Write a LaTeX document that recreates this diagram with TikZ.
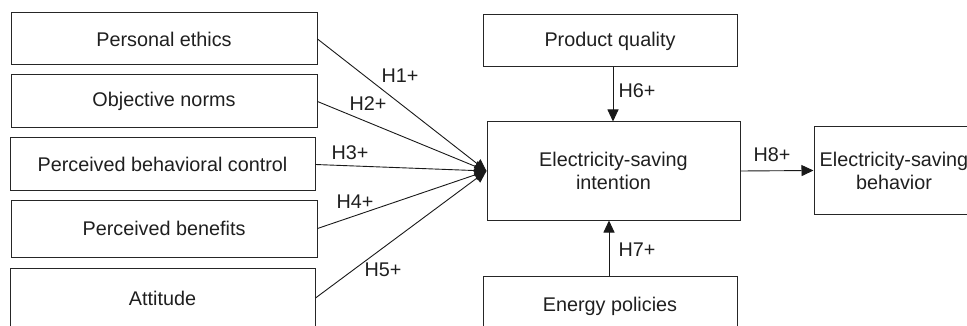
\documentclass[tikz,border=0pt]{standalone}
\usepackage{fontspec}
\setmainfont{Liberation Sans}
\usetikzlibrary{arrows.meta}

\begin{document}
\begin{tikzpicture}[x=1pt,y=-1pt,
  factor/.style={draw=black!85,line width=1pt,inner sep=0pt,align=center,
    font=\fontsize{19.8}{23}\selectfont,text=black!88},
  hyp/.style={font=\fontsize{19.8}{23}\selectfont,text=black!88,inner sep=0pt},
  link/.style={draw=black!90,line width=0.9pt,-{Triangle[length=12pt,width=11pt]}}]

\useasboundingbox (0,0) rectangle (967,326);
\clip (0,0) rectangle (967,326);

% antecedents
\node [factor,minimum width=306pt,minimum height=52pt] (PE) at (164,39) {Personal ethics};
\node [factor,minimum width=306pt,minimum height=53pt] (ON) at (164,101.5) {Objective norms};
\node [factor,minimum width=305pt,minimum height=53pt] (PBC) at (162.5,164.5) {Perceived behavioral control};
\node [factor,minimum width=306pt,minimum height=57pt] (PB) at (164,228.5) {Perceived benefits};
\node [factor,minimum width=305pt,minimum height=60pt] (ATT) at (162.5,298) {Attitude};

\node [factor,minimum width=254pt,minimum height=52pt] (PQ) at (610,41) {Product quality};
\node [factor,minimum width=253pt,minimum height=98pt] (ESI) at (613.5,171) {Electricity-saving\\intention};
\node [factor,minimum width=254pt,minimum height=60pt] (EP) at (610,306) {Energy policies};
\node [factor,minimum width=160pt,minimum height=87pt] (ESB) at (894,170.5) {Electricity-saving\\behavior};

\draw [link] (PE.east) -- (ESI.west);
\draw [link] (ON.east) -- (ESI.west);
\draw [link] (PBC.east) -- (ESI.west);
\draw [link] (PB.east) -- (ESI.west);
\draw [link] (ATT.east) -- (ESI.west);

\draw [link] (PQ.south -| 613,0) -- (ESI.north -| 613,0);
\draw [link] (EP.north -| 609,0) -- (ESI.south -| 609,0);
\draw [link] (ESI.east) -- (ESB.west);

\node [hyp] (H1) at (400,76) {H1+};
\node [hyp] (H2) at (368,104) {H2+};
\node [hyp] (H3) at (350,153) {H3+};
\node [hyp] (H4) at (355,202) {H4+};
\node [hyp] (H5) at (383,270) {H5+};
\node [hyp] (H6) at (637,91) {H6+};
\node [hyp] (H7) at (637,250) {H7+};
\node [hyp] (H8) at (772,155) {H8+};

\end{tikzpicture}
\end{document}
